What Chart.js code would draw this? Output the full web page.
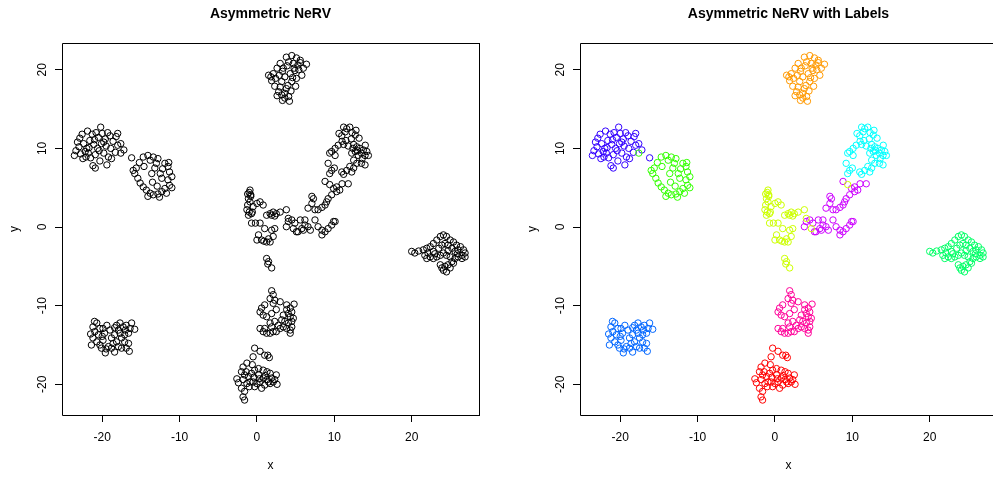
<!DOCTYPE html>
<html>
<head>
<meta charset="utf-8">
<script src="https://cdn.jsdelivr.net/npm/chart.js@4.4.1/dist/chart.umd.min.js"></script>
<style>
  html, body { margin: 0; padding: 0; background: #fff; overflow: hidden; }
  #wrap { position: relative; width: 993px; height: 477px; overflow: hidden; }
  canvas { position: absolute; top: 0; }
  #left { left: 0; }
  #right { left: 518px; }
</style>
</head>
<body>
<div id="wrap">
  <canvas id="left" width="496" height="477"></canvas>
  <canvas id="right" width="496" height="477"></canvas>
</div>
<script>
// embedding coordinates, one array per label group
const clusterRed = [[-0.3,-15.4],[0.4,-15.8],[1.0,-16.3],[1.4,-16.3],[-0.5,-16.5],[-1.3,-17.3],[-0.6,-17.5],[-1.8,-17.8],[-2.0,-18.4],[-1.6,-18.8],[-1.1,-19.0],[-0.7,-18.6],[-0.3,-18.2],[0.2,-18.0],[0.8,-18.2],[1.3,-18.4],[1.7,-18.6],[1.9,-19.2],[2.1,-19.7],[1.7,-19.9],[1.3,-19.4],[0.8,-19.2],[0.4,-19.7],[0.0,-19.9],[-0.5,-19.7],[-0.9,-19.7],[-1.3,-19.9],[-1.8,-19.4],[0.2,-18.8],[1.5,-19.7],[2.3,-19.4],[1.0,-20.1],[0.6,-20.5],[-1.6,-20.9],[-1.8,-21.6],[-1.6,-22.0],[-2.0,-20.5],[-0.3,-20.3],[-2.6,-19.3],[-2.4,-19.8],[2.5,-18.8],[2.6,-20.0],[-1.0,-20.3],[1.6,-16.6],[0.3,-19.3],[-0.4,-19.1],[1.1,-18.9],[-1.4,-18.4]];
const clusterOrange = [[3.8,21.6],[4.5,21.8],[5.1,21.5],[5.6,21.2],[4.1,21.0],[4.7,20.8],[5.3,20.6],[6.0,20.2],[4.9,19.9],[4.3,19.5],[3.6,19.1],[3.2,18.5],[3.0,17.8],[2.8,17.2],[3.2,16.8],[3.6,16.4],[4.1,16.6],[3.8,17.6],[4.5,18.5],[5.1,18.9],[5.8,19.3],[3.0,20.8],[2.6,20.2],[2.1,19.5],[1.8,19.1],[2.4,18.9],[1.5,19.3],[1.9,18.6],[2.3,17.9],[2.6,16.7],[3.3,16.1],[4.2,16.0],[3.6,17.0],[4.4,17.3],[5.0,17.9],[4.6,19.0],[5.4,20.0],[6.4,20.7],[3.4,20.2],[3.9,20.5],[2.9,19.3],[4.0,18.0],[4.8,20.2],[3.3,19.8],[5.6,20.9]];
const clusterYellow = [[-0.9,4.7],[-1.0,4.4],[-0.8,4.1],[-1.1,3.6],[-0.9,3.2],[-1.2,2.8],[-1.3,2.2],[-1.0,1.9],[-0.7,1.7],[-1.1,1.5],[-0.5,2.6],[0.0,3.0],[0.4,3.2],[0.8,2.8],[1.25,1.5],[1.7,1.7],[2.1,1.9],[2.5,1.7],[3.0,1.9],[2.3,1.4],[1.9,1.5],[-0.7,0.5],[-0.2,0.5],[0.4,0.5],[1.0,-0.2],[1.9,-0.4],[2.3,-0.2],[0.2,-1.0],[0.0,-1.65],[0.6,-1.65],[1.25,-1.9],[1.7,-1.9],[2.1,-1.2],[1.25,-4.0],[1.5,-4.4],[1.9,-5.2],[1.4,-4.7],[3.8,2.2],[4.05,1.1],[4.7,-0.2],[9.4,5.4],[-0.8,3.9],[-1.2,4.2],[-0.6,1.9],[1.5,-1.5],[0.9,-1.8]];
const clusterGreen = [[-14.7,8.9],[-14.1,9.1],[-13.4,8.9],[-12.8,8.7],[-13.8,8.5],[-15.2,8.2],[-11.9,8.1],[-11.5,7.7],[-11.3,7.0],[-11.0,6.4],[-11.5,6.0],[-11.3,5.3],[-11.9,4.9],[-11.7,4.3],[-14.3,4.7],[-13.8,4.3],[-13.4,4.1],[-12.8,4.2],[-12.3,4.5],[-14.1,3.9],[-15.6,7.5],[-15.8,6.8],[-15.4,6.2],[-15.1,5.6],[-13.2,7.5],[-12.5,6.8],[-12.3,6.2],[-13.6,6.8],[-14.6,7.7],[-12.2,7.4],[-11.0,5.0],[-12.9,5.2],[-13.5,5.7],[-14.7,5.1],[-12.6,3.8],[-16.0,7.2],[-13.0,8.1],[-11.4,8.2],[-17.6,9.4]];
const clusterSpring = [[20.0,-3.1],[20.4,-3.3],[20.9,-3.05],[21.5,-2.9],[21.95,-2.7],[22.4,-2.5],[22.8,-2.1],[23.25,-1.65],[23.7,-1.2],[24.1,-1.0],[24.5,-1.2],[24.97,-1.65],[25.4,-1.9],[25.8,-2.3],[26.3,-2.5],[26.7,-2.9],[26.9,-3.3],[26.5,-3.6],[26.0,-3.8],[25.6,-4.0],[24.97,-3.8],[24.5,-3.6],[24.1,-3.3],[23.7,-3.6],[23.25,-3.8],[22.8,-4.0],[22.4,-3.8],[21.95,-4.0],[21.7,-3.6],[22.8,-3.1],[23.5,-2.7],[23.9,-2.3],[24.3,-2.1],[24.7,-2.3],[25.2,-2.7],[25.6,-3.1],[26.0,-2.9],[23.7,-4.8],[23.9,-5.2],[24.3,-5.0],[24.7,-4.8],[24.97,-5.2],[24.5,-5.7],[24.1,-5.5],[25.2,-4.4],[25.4,-4.6],[26.5,-4.0],[26.9,-3.8],[23.0,-3.4],[24.7,-3.0],[25.9,-3.4],[22.1,-3.3]];
const clusterCyan = [[11.2,12.7],[11.6,12.5],[12.0,12.7],[11.4,12.1],[12.3,12.0],[12.7,11.7],[10.96,11.6],[10.5,10.4],[10.1,10.0],[9.66,9.6],[9.4,9.4],[10.1,9.1],[11.2,10.5],[11.8,10.3],[12.5,10.5],[12.9,10.2],[13.3,10.0],[13.75,9.8],[14.2,9.6],[13.97,9.1],[13.5,9.4],[13.1,9.1],[12.7,9.6],[12.25,9.4],[12.5,8.5],[12.9,8.1],[13.5,8.1],[13.97,7.9],[12.0,7.7],[11.6,7.2],[12.5,7.5],[10.96,7.0],[9.2,8.1],[9.66,7.2],[9.4,6.8],[11.2,6.7],[12.25,7.0],[12.2,11.2],[11.5,11.0],[13.2,11.3],[14.0,10.4],[13.6,8.7],[10.6,11.9],[12.8,12.3],[10.0,7.5],[13.0,9.7],[12.4,10.0],[14.4,9.1],[11.0,10.9]];
const clusterAzure = [[-21.2,-12.7],[-20.7,-12.2],[-20.3,-12.9],[-20.96,-13.3],[-20.5,-13.7],[-21.2,-14.1],[-20.7,-14.6],[-20.3,-15.0],[-19.9,-14.4],[-19.7,-13.5],[-19.9,-12.9],[-19.4,-12.5],[-19.2,-15.2],[-18.8,-15.4],[-18.6,-14.8],[-18.15,-14.6],[-18.4,-13.7],[-17.9,-13.1],[-18.15,-12.5],[-17.7,-12.2],[-17.3,-12.7],[-16.9,-12.5],[-16.4,-12.9],[-16.6,-13.5],[-17.1,-13.7],[-17.5,-14.1],[-17.1,-14.6],[-16.6,-14.8],[-16.9,-15.4],[-17.5,-15.4],[-17.9,-15.2],[-19.0,-13.1],[-20.1,-15.4],[-18.8,-14.1],[-17.7,-13.5],[-16.2,-12.2],[-21.5,-13.6],[-21.4,-15.0],[-19.6,-16.0],[-18.4,-15.9],[-16.5,-15.8],[-21.0,-12.0],[-15.8,-13.0],[-20.0,-13.9],[-18.4,-12.8],[-17.0,-13.1],[-19.5,-15.5]];
const clusterBlue = [[-20.2,12.7],[-21.9,12.2],[-21.3,11.8],[-19.3,12.0],[-18.2,11.5],[-18.6,10.9],[-19.6,11.2],[-20.5,11.4],[-21.6,11.0],[-22.4,10.6],[-23.0,10.2],[-23.4,9.7],[-22.8,9.3],[-22.2,9.6],[-21.7,10.1],[-21.1,10.5],[-20.6,10.0],[-20.1,10.6],[-19.5,10.3],[-18.9,10.0],[-18.3,9.5],[-17.6,10.6],[-17.2,9.8],[-19.8,9.4],[-20.9,9.2],[-21.5,8.8],[-22.5,8.7],[-23.6,9.1],[-22.9,11.3],[-20.3,8.4],[-21.2,7.8],[-20.9,7.5],[-19.4,7.9],[-18.8,8.7],[-19.2,8.9],[-20.8,12.0],[-22.0,10.0],[-20.4,9.7],[-21.8,9.4],[-18.0,11.9],[-16.2,8.8],[-21.0,11.1],[-19.0,11.6],[-18.0,10.4],[-22.6,11.8],[-23.2,10.8],[-20.0,11.9],[-19.8,10.8],[-22.1,8.9]];
const clusterViolet = [[8.8,5.8],[10.3,5.1],[10.7,4.7],[9.9,4.9],[10.3,4.5],[9.66,4.1],[9.2,3.6],[9.0,3.2],[8.8,2.8],[8.4,2.5],[7.9,2.2],[7.5,2.2],[7.1,3.0],[7.3,3.6],[7.1,3.9],[6.6,2.4],[6.2,0.9],[5.6,0.9],[4.9,0.5],[4.5,0.9],[4.05,0.7],[3.8,0.04],[5.3,-0.6],[6.0,-0.4],[6.6,0.04],[7.5,0.9],[7.9,0.04],[8.4,-0.4],[8.8,-0.6],[9.2,-0.2],[9.66,0.25],[10.1,0.7],[5.8,-0.2],[6.2,0.25],[6.9,-0.4],[5.1,-0.6],[8.4,-1.0],[9.9,0.7],[11.0,5.5],[11.8,5.5]];
const clusterPink = [[1.9,-8.1],[2.1,-8.6],[1.7,-9.1],[2.3,-9.3],[3.0,-9.5],[2.1,-9.7],[1.0,-9.9],[0.6,-10.3],[0.4,-10.8],[0.8,-11.2],[1.25,-11.4],[1.9,-11.0],[2.5,-10.5],[3.84,-9.9],[4.3,-10.3],[4.5,-10.8],[4.05,-11.0],[3.84,-10.5],[3.4,-11.2],[4.3,-11.4],[4.7,-11.6],[4.5,-12.0],[4.05,-12.2],[3.6,-12.0],[3.4,-12.7],[3.84,-12.9],[4.3,-13.1],[4.5,-12.7],[3.0,-12.9],[2.5,-13.3],[2.1,-13.3],[1.7,-13.5],[1.25,-13.5],[0.8,-13.3],[0.4,-12.9],[1.0,-12.9],[1.9,-12.7],[2.76,-12.5],[3.2,-11.8],[2.3,-12.0],[1.7,-12.2],[4.3,-13.5],[4.8,-9.8]];

const clusters = [clusterRed, clusterOrange, clusterYellow, clusterGreen, clusterSpring,
                  clusterCyan, clusterAzure, clusterBlue, clusterViolet, clusterPink];
const clusterColors = ['#FF0000', '#FF9900', '#CCFF00', '#33FF00', '#00FF66',
                       '#00FFFF', '#0066FF', '#3300FF', '#CC00FF', '#FF0099'];
const tickValues = [-20, -10, 0, 10, 20];
const xRange = [-25.2, 28.7];
const yRange = [-23.9, 23.4];

const font = { family: '"Liberation Sans", Arial, sans-serif', size: 12 };

// R style box + main title; the right panel is cropped in the reference, so no right edge there
const framePlugin = {
  id: 'frame',
  afterDraw(chart, args, opts) {
    const { ctx, chartArea: a } = chart;
    const l = Math.round(a.left) + 0.5, r = Math.round(a.right) + 0.5;
    const t = Math.round(a.top) + 0.5, b = Math.round(a.bottom) + 0.5;
    ctx.save();
    ctx.strokeStyle = '#000';
    ctx.lineWidth = 1;
    ctx.beginPath();
    ctx.moveTo(r + 0.5, t); ctx.lineTo(l, t); ctx.lineTo(l, b); ctx.lineTo(r + 0.5, b);
    if (opts.rightEdge) { ctx.moveTo(r, t); ctx.lineTo(r, b); }
    ctx.stroke();
    ctx.font = 'bold 14px "Liberation Sans", Arial, sans-serif';
    ctx.fillStyle = '#000';
    ctx.textAlign = 'center';
    ctx.textBaseline = 'middle';
    ctx.fillText(opts.text, (a.left + a.right) / 2, 14);
    ctx.restore();
  }
};

const axis = (title, range, horizontal) => ({
  type: 'linear',
  min: range[0],
  max: range[1],
  afterFit: s => { if (horizontal) s.height = 62; else s.width = 62; },
  afterBuildTicks: s => { s.ticks = tickValues.map(v => ({ value: v })); },
  grid: { drawOnChartArea: false, tickLength: 7, color: '#000' },
  border: { display: false },
  ticks: horizontal
    ? { color: '#000', font, padding: 8, maxRotation: 0, autoSkip: false }
    : { color: '#000', font, padding: 4, minRotation: 90, maxRotation: 90, crossAlign: 'center', autoSkip: false },
  title: {
    display: true, text: title, color: '#000', font,
    padding: horizontal ? { top: 0, bottom: 4 } : { top: 7, bottom: 0 }
  }
});

const makeChart = (id, title, datasets, rightEdge) => new Chart(document.getElementById(id), {
  type: 'scatter',
  data: { datasets },
  options: {
    responsive: false,
    animation: false,
    layout: { padding: { top: 43, right: 17, left: 0, bottom: 0 } },
    plugins: { legend: { display: false }, tooltip: { enabled: false }, frame: { text: title, rightEdge } },
    scales: { x: axis('x', xRange, true), y: axis('y', yRange, false) }
  },
  plugins: [framePlugin]
});

const pointStyle = color => ({
  borderColor: color,
  backgroundColor: 'rgba(0,0,0,0)',
  borderWidth: 1,
  pointRadius: 3.2,
  pointHoverRadius: 3.2
});

makeChart('left', 'Asymmetric NeRV', [
  { data: clusters.flat(), ...pointStyle('#000') }
], true);

makeChart('right', 'Asymmetric NeRV with Labels',
  clusters.map((c, i) => ({ data: c, ...pointStyle(clusterColors[i]) })), false);
</script>
</body>
</html>
